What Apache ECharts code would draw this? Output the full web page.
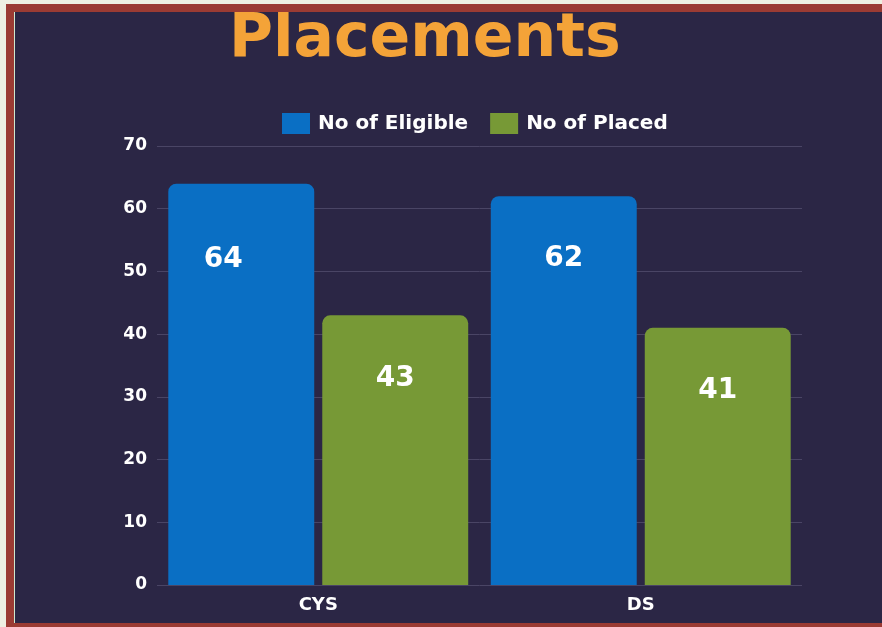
<!DOCTYPE html>
<html>
<head>
<meta charset="utf-8">
<script src="https://cdn.jsdelivr.net/npm/echarts@6/dist/echarts.min.js"></script>
<style>
  html, body { margin: 0; padding: 0; background: #eef0e2; }
  #wrap { position: relative; width: 882px; height: 627px; overflow: hidden; }
  #chart { position: absolute; left: 0; top: 0; width: 882px; height: 627px; }
  .frame { position: absolute; pointer-events: none; }
</style>
</head>
<body>
<div id="wrap">
  <div id="chart"></div>
  <!-- picture frame round the chart -->
  <div class="frame" style="left:0;top:0;width:882px;height:4px;background:#eef0e2"></div>
  <div class="frame" style="left:0;top:0;width:6px;height:627px;background:#eef0e2"></div>
  <div class="frame" style="left:6px;top:4px;width:876px;height:8px;background:#9b3b33"></div>
  <div class="frame" style="left:6px;top:4px;width:8px;height:623px;background:#9b3b33"></div>
  <div class="frame" style="left:14px;top:12px;width:1px;height:611px;background:#cfe8cf"></div>
  <div class="frame" style="left:6px;top:623px;width:876px;height:4px;background:#9b3b33"></div>
</div>
<script>
const categories = ['CYS', 'DS'];
const eligible = [64, 62];
const placed = [43, 41];
const yTicks = { min: 0, max: 70, interval: 10 };

const font = "'DejaVu Sans', 'Open Sans', sans-serif";

const labelStyle = {
  show: true,
  position: 'insideTop',
  distance: 49,
  color: '#ffffff',
  fontSize: 28,
  fontWeight: 'bold',
  fontFamily: font
};

// the "64" label sits a little left of and below its bar centre in the picture
const eligibleData = eligible.map((v, i) =>
  i === 0 ? { value: v, label: { offset: [-18, 13] } } : v
);

const chart = echarts.init(document.getElementById('chart'));

chart.setOption({
  backgroundColor: '#2b2645',
  animation: false,
  title: {
    text: 'Placements',
    left: 224,
    top: 5,
    textStyle: {
      color: '#f4a338',
      fontSize: 60,
      fontWeight: 'bold',
      fontFamily: font
    }
  },
  legend: {
    top: 108,
    left: 277,
    itemWidth: 28,
    itemHeight: 21,
    itemGap: 22,
    icon: 'rect',
    textStyle: {
      color: '#ffffff',
      fontSize: 20,
      fontWeight: 'bold',
      fontFamily: font,
      padding: [0, 0, 0, 3]
    }
  },
  grid: {
    left: 157,
    right: 80,
    top: 146,
    bottom: 42
  },
  xAxis: {
    type: 'category',
    data: categories,
    axisLine: { show: false },
    axisTick: { show: false },
    axisLabel: {
      color: '#ffffff',
      fontSize: 18,
      fontWeight: 'bold',
      fontFamily: font,
      margin: 11
    }
  },
  yAxis: {
    type: 'value',
    min: yTicks.min,
    max: yTicks.max,
    interval: yTicks.interval,
    axisLine: { show: false },
    axisTick: { show: false },
    axisLabel: {
      color: '#ffffff',
      fontSize: 17,
      fontWeight: 'bold',
      fontFamily: font,
      margin: 10
    },
    splitLine: {
      lineStyle: { color: '#4a4565', width: 1 }
    }
  },
  series: [
    {
      name: 'No of Eligible',
      type: 'bar',
      data: eligibleData,
      barGap: '5.5%',
      barCategoryGap: '7%',
      itemStyle: { color: '#0a6fc4', borderRadius: [8, 8, 0, 0] },
      label: labelStyle
    },
    {
      name: 'No of Placed',
      type: 'bar',
      data: placed,
      itemStyle: { color: '#779936', borderRadius: [8, 8, 0, 0] },
      label: labelStyle
    }
  ]
});
</script>
</body>
</html>
